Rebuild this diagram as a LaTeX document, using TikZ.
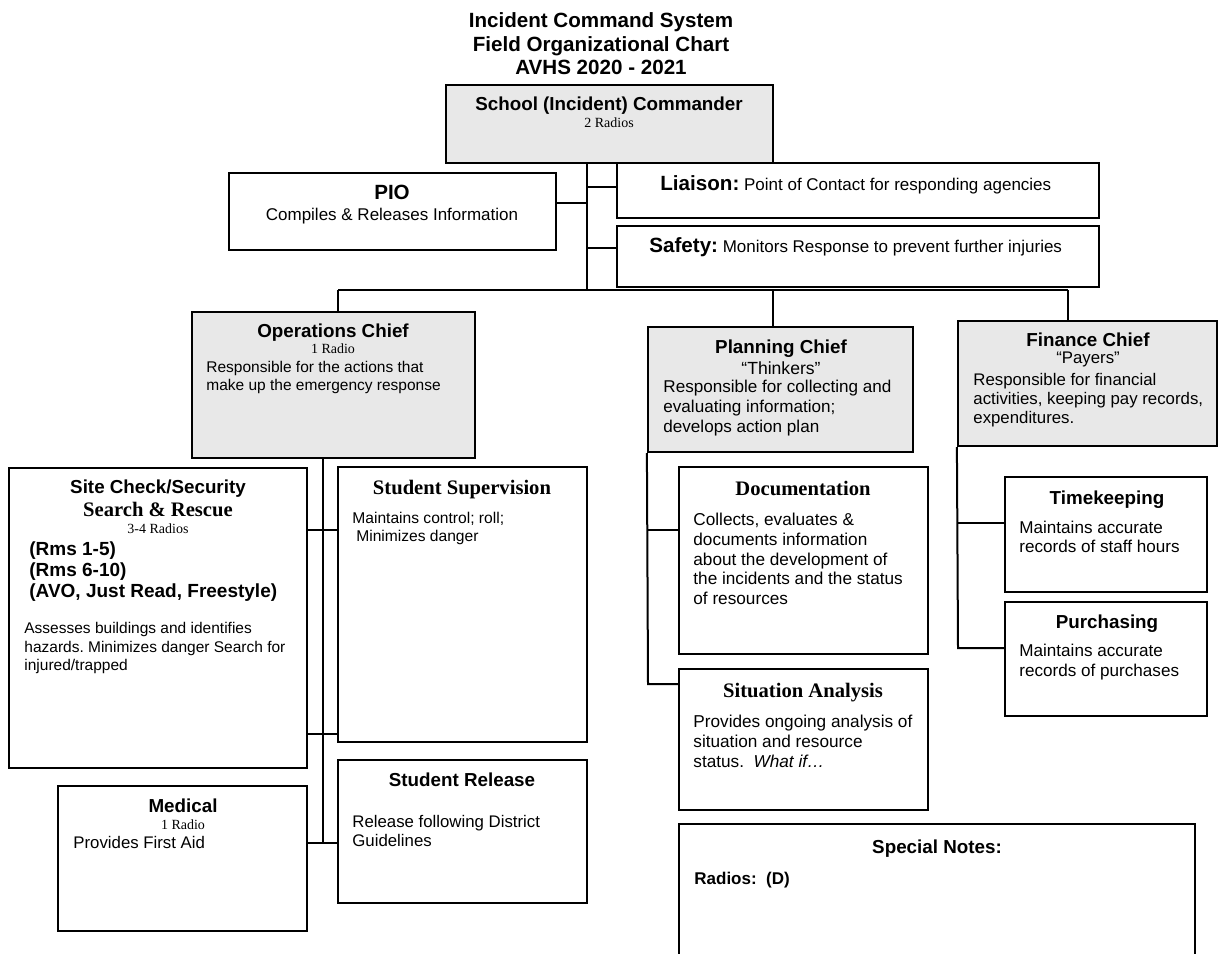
\documentclass[tikz,border=0pt]{standalone}
\usepackage{fontspec}
\setmainfont{Liberation Sans}
\newfontfamily\timesfont{Liberation Serif}
\usetikzlibrary{fit,calc}
\definecolor{chiefgray}{gray}{0.91}
\frenchspacing

\tikzset{
  box/.style={draw, line width=1.1pt, inner sep=0pt},
  chiefbox/.style={box, fill=chiefgray},
  link/.style={line width=1pt},
  head/.style={font=\bfseries\fontsize{9.4}{11}\selectfont, inner sep=0pt, anchor=base},
  serifhead/.style={font=\timesfont\bfseries\fontsize{10.3}{12}\selectfont, inner sep=0pt, anchor=base},
  radio/.style={font=\timesfont\fontsize{7}{8}\selectfont, inner sep=0pt, anchor=base},
  body/.style={font=\fontsize{8.4}{9.4}\selectfont, align=left, inner sep=0pt, anchor=north west},
}

\begin{document}
\begin{tikzpicture}[x=0.5pt,y=-0.5pt]
\useasboundingbox (0,0) rectangle (1220,953);
\clip (0,0) rectangle (1220,953);

%% title
\node[font=\bfseries\fontsize{10.3}{11.75}\selectfont, align=center, inner sep=0pt] (title) at (601,44)
  {Incident Command System\\Field Organizational Chart\\AVHS 2020 - 2021};

%% boxes
\node[chiefbox, fit={(446,85) (773,163)}] (cmd) {};
\node[box, fit={(229,173) (556,250)}] (pio) {};
\node[box, fit={(617,163) (1099,218)}] (liaison) {};
\node[box, fit={(617,226) (1099,287)}] (safety) {};
\node[chiefbox, fit={(192,312) (475,458)}] (ops) {};
\node[chiefbox, fit={(648,327) (913,452)}] (plan) {};
\node[chiefbox, fit={(958,321) (1217,446)}] (fin) {};
\node[box, fit={(9,468) (307,768)}] (site) {};
\node[box, fit={(338,467) (587,742)}] (sup) {};
\node[box, fit={(338,760) (587,903)}] (release) {};
\node[box, fit={(58,786) (307,931)}] (medical) {};
\node[box, fit={(679,467) (928,654)}] (doc) {};
\node[box, fit={(679,669) (928,810)}] (sit) {};
\node[box, fit={(1005,477) (1207,592)}] (time) {};
\node[box, fit={(1005,602) (1207,716)}] (purch) {};
\node[box, fit={(679,824) (1195,975)}] (notes) {};

%% junctions
\coordinate (trunk) at (587,290);
\coordinate (busL) at (338,290);
\coordinate (busR) at (1068,290);
\coordinate (dPlan) at (773,290);
\coordinate (opsA) at (323,530);
\coordinate (opsB) at (323,734);
\coordinate (opsC) at (323,843);
\coordinate (planA) at (648,530);
\coordinate (planB) at (648,684);
\coordinate (finA) at (958,523);
\coordinate (finB) at (958,648);

%% connectors
\draw[link] (trunk |- cmd.south) -- (trunk);
\draw[link] ($(pio.north east)!0.39!(pio.south east)$) coordinate (pioC) -- (pioC -| trunk);
\draw[link] ($(liaison.north west)!0.44!(liaison.south west)$) coordinate (liaC) -- (liaC -| trunk);
\draw[link] ($(safety.north west)!0.37!(safety.south west)$) coordinate (safC) -- (safC -| trunk);
\draw[link] (busL) -- (busR);
\draw[link] (busL) -- (busL |- ops.north);
\draw[link] (dPlan) -- (dPlan |- plan.north);
\draw[link] (busR) -- (busR |- fin.north);
\draw[link] (opsA |- ops.south) -- (opsC);
\draw[link] (site.east |- opsA) -- (sup.west |- opsA);
\draw[link] (site.east |- opsB) -- (sup.west |- opsB);
\draw[link] (medical.east |- opsC) -- (release.west |- opsC);
\draw[link] (plan.south west) -- (planB) -- (sit.west |- planB);
\draw[link] (planA) -- (doc.west |- planA);
\draw[link] (fin.south west) -- (finB) -- (purch.west |- finB);
\draw[link] (finA) -- (time.west |- finA);

%% commander, pio, liaison, safety
\node[head] (cmdT) at (609,110) {School (Incident) Commander};
\node[radio] (cmdR) at (609,127.5) {2 Radios};
\node[head, font=\bfseries\fontsize{10.3}{12}\selectfont] (pioT) at (392,199) {PIO};
\node[head, font=\fontsize{8.5}{10}\selectfont] (pioB) at (392,220) {Compiles \& Releases Information};
\node[inner sep=0pt, anchor=base west, font=\fontsize{8.5}{10}\selectfont] (liaT) at (660,190)
  {{\bfseries\fontsize{10.3}{12}\selectfont Liaison:} Point of Contact for responding agencies};
\node[inner sep=0pt, anchor=base west, font=\fontsize{8.5}{10}\selectfont] (safT) at (649,252)
  {{\bfseries\fontsize{10.3}{12}\selectfont Safety:} Monitors Response to prevent further injuries};

%% operations
\node[head] (opsT) at (333,337) {Operations Chief};
\node[radio] (opsR) at (333,353.5) {1 Radio};
\node[body, font=\fontsize{7.75}{9}\selectfont] (opsB) at (206,361) {Responsible for the actions that\\make up the emergency response};

\node[head] (siteT) at (158,493) {Site Check/Security};
\node[serifhead] (siteS) at (158,516) {Search \& Rescue};
\node[radio] (siteR) at (158,533.5) {3-4 Radios};
\node[body, font=\bfseries\fontsize{9.5}{10.7}\selectfont] (rms) at (29,541)
  {(Rms 1-5)\\(Rms 6-10)\\(AVO, Just Read, Freestyle)};
\node[body, font=\fontsize{7.75}{9.25}\selectfont] (siteB) at (24,622)
  {Assesses buildings and identifies\\hazards. Minimizes danger Search for\\injured/trapped};

\node[serifhead] (supT) at (462,494) {Student Supervision};
\node[body, font=\fontsize{7.8}{9}\selectfont] (supB) at (352,512) {Maintains control; roll;\\\hspace*{0.25em}Minimizes danger};

\node[head] (relT) at (462,786) {Student Release};
\node[body] (relB) at (352,815) {Release following District\\Guidelines};

\node[head] (medT) at (183,812) {Medical};
\node[radio] (medR) at (183,829.5) {1 Radio};
\node[body] (medB) at (73,836) {Provides First Aid};

%% planning
\node[head] (planT) at (781,353) {Planning Chief};
\node[head, font=\fontsize{8.8}{10}\selectfont] (planQ) at (781,374) {``Thinkers''};
\node[body, font=\fontsize{8.55}{10}\selectfont] (planB) at (663,380) {Responsible for collecting and\\evaluating information;\\develops action plan};

\node[serifhead] (docT) at (803,495) {Documentation};
\node[body, font=\fontsize{8.6}{9.8}\selectfont] (docB) at (693,513)
  {Collects, evaluates \&\\documents information\\about the development of\\the incidents and the status\\of resources};

\node[serifhead] (sitT) at (803,697) {Situation Analysis};
\node[body, font=\fontsize{8.6}{9.9}\selectfont] (sitB) at (693,715)
  {Provides ongoing analysis of\\situation and resource\\status.\ \ \textit{What if\ldots}};

%% finance
\node[head] (finT) at (1088,346) {Finance Chief};
\node[head, font=\fontsize{8.4}{10}\selectfont] (finQ) at (1088,363) {``Payers''};
\node[body] (finB) at (973,373) {Responsible for financial\\activities, keeping pay records,\\expenditures.};

\node[head] (timeT) at (1107,504) {Timekeeping};
\node[body, font=\fontsize{8.55}{9.5}\selectfont] (timeB) at (1019,521) {Maintains accurate\\records of staff hours};

\node[head] (purchT) at (1107,628) {Purchasing};
\node[body, font=\fontsize{8.55}{9.8}\selectfont] (purchB) at (1019,644) {Maintains accurate\\records of purchases};

%% notes
\node[head] (notesT) at (937,853) {Special Notes:};
\node[inner sep=0pt, anchor=base west, font=\bfseries\fontsize{8.5}{10}\selectfont] (notesR) at (694,884) {Radios:\ \ (D)};
\end{tikzpicture}
\end{document}
